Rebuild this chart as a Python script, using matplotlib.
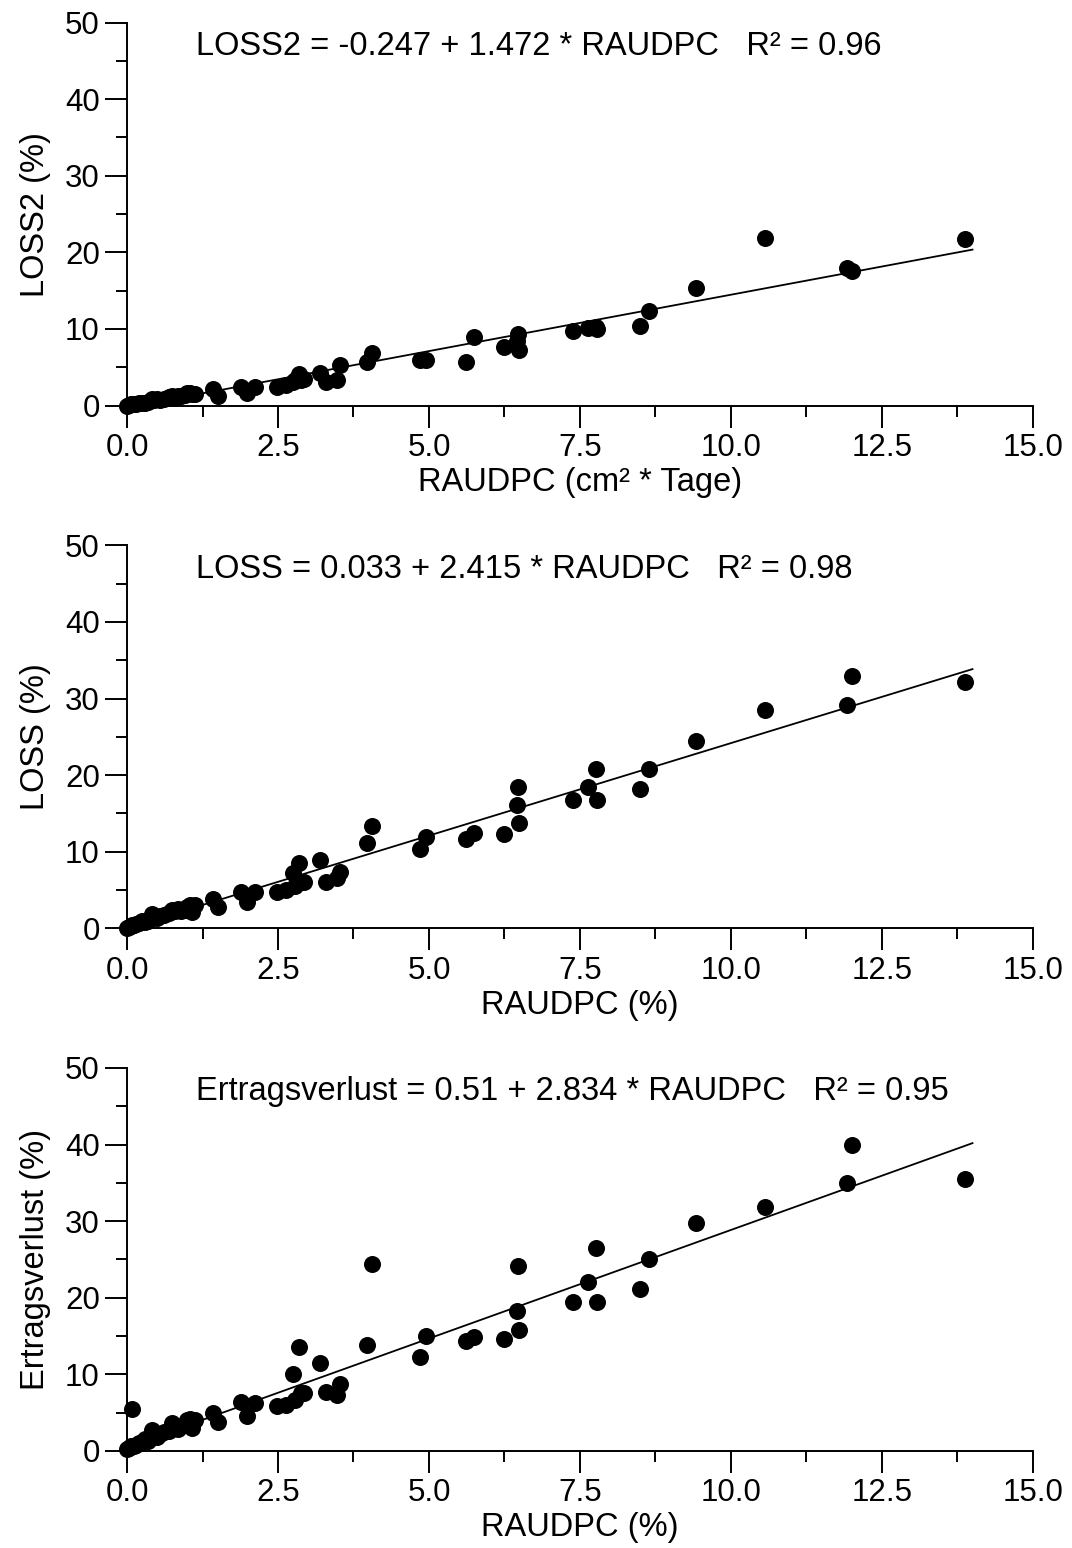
import matplotlib
matplotlib.use("Agg")
import matplotlib.pyplot as plt
from matplotlib.ticker import MultipleLocator, FormatStrFormatter

plt.rcParams['font.family'] = ['Liberation Sans', 'DejaVu Sans']

# RAUDPC werte (gleich fuer alle drei Bilder)
raudpc = [0.00, 0.03, 0.06, 0.09, 0.12, 0.15, 0.20, 0.25, 0.30, 0.35,
          0.42, 0.45, 0.50, 0.55, 0.62, 0.70, 0.75, 0.80, 0.85, 0.90,
          0.96, 1.00, 1.04, 1.07, 1.12, 1.43, 1.51, 1.88, 1.98, 2.12,
          2.48, 2.64, 2.75, 2.78, 2.84, 2.88, 2.93, 3.20, 3.29, 3.47,
          3.52, 3.98, 4.05, 4.85, 4.95, 5.62, 5.75, 6.25, 6.45, 6.48,
          6.49, 7.39, 7.64, 7.76, 7.79, 8.49, 8.65, 9.42, 10.56, 11.92,
          12.00, 13.87]
loss2 = [0.0, 0.1, 0.15, 0.2, 0.2, 0.25, 0.3, 0.35, 0.4, 0.5,
         0.9, 0.7, 0.8, 0.75, 0.9, 1.1, 1.2, 1.0, 1.3, 1.2,
         1.4, 1.6, 1.7, 1.5, 1.5, 2.2, 1.3, 2.4, 1.6, 2.4,
         2.4, 2.7, 3.1, 3.4, 4.1, 3.3, 3.5, 4.3, 3.1, 3.3,
         5.3, 5.7, 6.9, 5.9, 6.0, 5.7, 9.0, 7.7, 8.4, 9.3,
         7.3, 9.7, 10.1, 10.2, 10.0, 10.4, 12.3, 15.3, 21.9, 17.9,
         17.6, 21.7]
loss = [0.1, 0.2, 0.3, 0.5, 0.4, 0.6, 0.7, 0.9, 0.8, 1.0,
        1.9, 1.5, 1.3, 1.6, 1.8, 2.0, 2.4, 2.2, 2.5, 2.3,
        2.4, 2.8, 3.0, 2.1, 3.1, 3.8, 2.8, 4.8, 3.4, 4.8,
        4.8, 5.0, 7.2, 5.5, 8.5, 6.1, 6.0, 8.9, 6.1, 6.6,
        7.3, 11.1, 13.3, 10.3, 11.9, 11.6, 12.5, 12.3, 16.1, 18.4,
        13.8, 16.8, 18.4, 20.8, 16.8, 18.2, 20.8, 24.4, 28.5, 29.2,
        33.0, 32.1]
ertrag = [0.2, 0.4, 0.6, 5.45, 0.7, 0.8, 1.0, 1.2, 1.5, 1.3,
          2.7, 2.0, 1.8, 2.2, 2.5, 2.6, 3.7, 3.0, 2.9, 3.3,
          3.4, 4.1, 4.2, 3.0, 4.0, 4.9, 3.8, 6.4, 4.6, 6.3,
          5.9, 6.0, 10.1, 6.7, 13.6, 7.5, 7.6, 11.5, 7.7, 7.3,
          8.7, 13.8, 24.4, 12.3, 15.0, 14.4, 14.9, 14.6, 18.3, 24.1,
          15.8, 19.4, 22.0, 26.5, 19.4, 21.2, 25.1, 29.7, 31.9, 35.0,
          40.0, 35.5]

# (y-werte, achsentitel, x-titel, achsenabschnitt, steigung, R2, name)
panels = [
    (loss2, 'LOSS2 (%)', 'RAUDPC (cm² * Tage)', -0.247, 1.472, 0.96, 'LOSS2'),
    (loss, 'LOSS (%)', 'RAUDPC (%)', 0.033, 2.415, 0.98, 'LOSS'),
    (ertrag, 'Ertragsverlust (%)', 'RAUDPC (%)', 0.51, 2.834, 0.95, 'Ertragsverlust'),
]

fig = plt.figure(figsize=(10.72, 15.48), dpi=100)
bottoms = [0.738, 0.4003, 0.0627]

for (ys, ylab, xlab, a, b, r2, name), bot in zip(panels, bottoms):
    ax = fig.add_axes([0.1185, bot, 0.845, 0.2474])
    ax.scatter(raudpc, ys, s=150, color='black', zorder=3, clip_on=False,
               linewidths=0)
    xl = [0.0, 14.0]
    ax.plot(xl, [a + b * v for v in xl], color='black', lw=1.3)
    ax.set_xlim(0, 15)
    ax.set_ylim(0, 50)
    for s in ['top', 'right']:
        ax.spines[s].set_visible(False)
    for s in ['left', 'bottom']:
        ax.spines[s].set_linewidth(1.4)
    ax.xaxis.set_major_locator(MultipleLocator(2.5))
    ax.xaxis.set_minor_locator(MultipleLocator(1.25))
    ax.xaxis.set_major_formatter(FormatStrFormatter('%.1f'))
    ax.yaxis.set_major_locator(MultipleLocator(10))
    ax.yaxis.set_minor_locator(MultipleLocator(5))
    ax.tick_params(which='major', length=15.6, width=1.4, labelsize=22.5, pad=4)
    ax.tick_params(which='minor', length=7.7, width=1.4)
    ax.set_xlabel(xlab, fontsize=23.5, labelpad=3)
    ax.set_ylabel(ylab, fontsize=23.5, labelpad=10)
    eq = f'{name} = {a:g} + {b:g} * RAUDPC   R² = {r2:.2f}'
    ax.text(0.076, 0.938, eq, transform=ax.transAxes, fontsize=23.5,
            va='center', ha='left')

fig.savefig('out.png', dpi=100)
